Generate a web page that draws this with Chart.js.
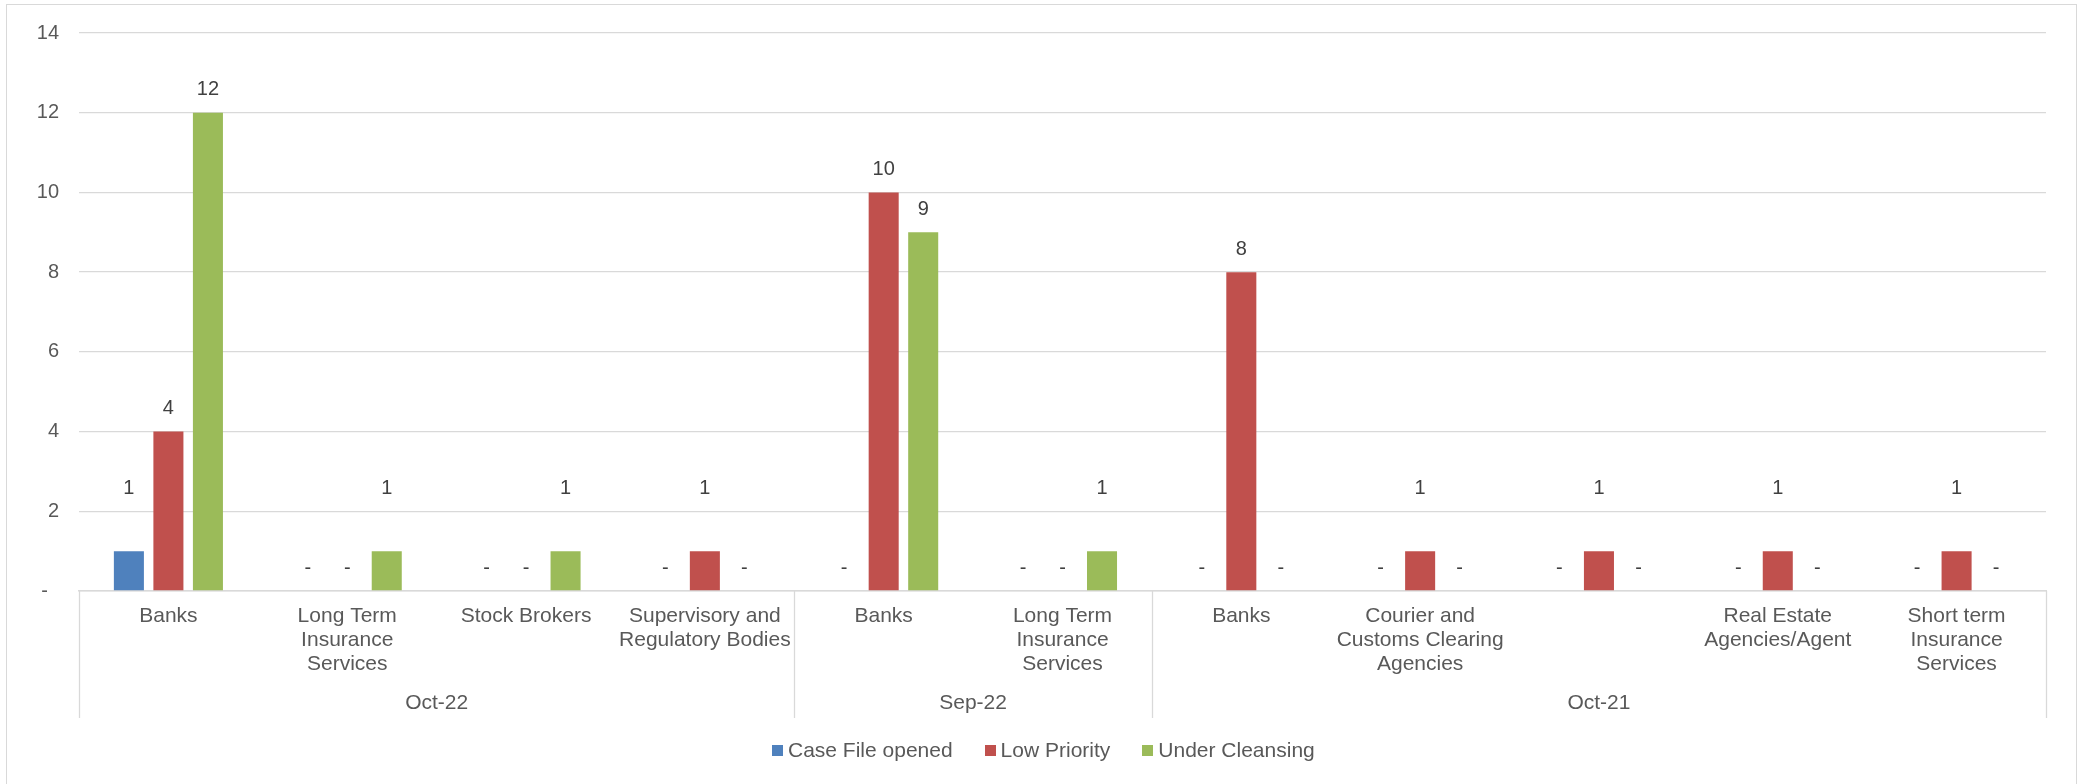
<!DOCTYPE html>
<html>
<head>
<meta charset="utf-8">
<script src="https://cdn.jsdelivr.net/npm/chart.js@4.4.1/dist/chart.umd.min.js"></script>
<style>
  html, body { margin: 0; padding: 0; background: #fff; }
  #wrap { position: relative; width: 2081px; height: 784px; overflow: hidden; }
  #frame {
    position: absolute; left: 6px; top: 4px; width: 2069px; height: 820px;
    border: 1px solid #d9d9d9; pointer-events: none;
  }
  #legend {
    position: absolute; top: 738px; left: 772px;
    display: flex; align-items: center; gap: 32px;
    font: 21px "Liberation Sans", Arial, sans-serif; color: #595959;
  }
  #legend .item { display: flex; align-items: center; }
  #legend .box { width: 11px; height: 11px; margin-right: 5px; }
</style>
</head>
<body>
<div id="wrap">
  <canvas id="chart" width="2081" height="784"></canvas>
  <div id="frame"></div>
  <div id="legend"></div>
</div>
<script>
/* === DATA === */
const categories = [
  ["Banks"], ["Long Term", "Insurance", "Services"], ["Stock Brokers"], ["Supervisory and", "Regulatory Bodies"],
  ["Banks"], ["Long Term", "Insurance", "Services"],
  ["Banks"], ["Courier and", "Customs Clearing", "Agencies"], [""], ["Real Estate", "Agencies/Agent"], ["Short term", "Insurance", "Services"]
];
const groups = ["Oct-22", "Sep-22", "Oct-21"];
const groupSizes = [4, 2, 5];

const seriesNames = ["Case File opened", "Low Priority", "Under Cleansing"];
const caseFileOpened = [1, 0, 0, 0, 0, 0, 0, 0, 0, 0, 0];
const lowPriority = [4, 0, 0, 1, 10, 0, 8, 1, 1, 1, 1];
const underCleansing = [12, 1, 1, 0, 9, 1, 0, 0, 0, 0, 0];
const yTicks = [0, 2, 4, 6, 8, 10, 12, 14];

const colors = ["#4f81bd", "#c0504d", "#9bbb59"];
const FONT = '"Liberation Sans", Arial, sans-serif';

/* === PLUGINS === */
// value labels above bars, zero values shown as a dash
const barLabels = {
  id: "barLabels",
  afterDatasetsDraw(chart) {
    const ctx = chart.ctx;
    const base = chart.scales.y.getPixelForValue(0);
    ctx.save();
    ctx.font = "20px " + FONT;
    ctx.fillStyle = "#404040";
    ctx.textAlign = "center";
    ctx.textBaseline = "middle";
    chart.data.datasets.forEach((ds, di) => {
      chart.getDatasetMeta(di).data.forEach((bar, i) => {
        const v = ds.data[i];
        if (v === 0) {
          ctx.fillText("-", bar.x, base - 23);
        } else {
          // keep labels of short bars above the dash row
          const y = Math.min(bar.y - 23, base - 103);
          ctx.fillText(String(v), bar.x, y);
        }
      });
    });
    ctx.restore();
  }
};

// second level of the category axis: group names and divider lines
const groupAxis = {
  id: "groupAxis",
  afterDraw(chart) {
    const ctx = chart.ctx;
    const x = chart.scales.x;
    const top = chart.chartArea.bottom;
    ctx.save();
    ctx.strokeStyle = "#d9d9d9";
    ctx.lineWidth = 1.3;
    ctx.font = "21px " + FONT;
    ctx.fillStyle = "#595959";
    ctx.textAlign = "center";
    ctx.textBaseline = "middle";
    let start = 0;
    const edges = [x.getPixelForValue(-0.5)];
    groups.forEach((g, gi) => {
      const end = start + groupSizes[gi];
      const left = x.getPixelForValue(start - 0.5);
      const right = x.getPixelForValue(end - 0.5);
      edges.push(right);
      ctx.fillText(g, (left + right) / 2, top + 112);
      start = end;
    });
    edges.forEach(px => {
      ctx.beginPath();
      ctx.moveTo(Math.round(px) + 0.5, top);
      ctx.lineTo(Math.round(px) + 0.5, top + 127);
      ctx.stroke();
    });
    ctx.restore();
  }
};

/* === CHART === */
const seriesData = [caseFileOpened, lowPriority, underCleansing];

new Chart(document.getElementById("chart"), {
  type: "bar",
  data: {
    labels: categories,
    datasets: seriesNames.map((name, i) => ({
      label: name,
      data: seriesData[i],
      backgroundColor: colors[i],
      borderWidth: 0,
      categoryPercentage: 0.663,
      barPercentage: 0.76
    }))
  },
  options: {
    responsive: false,
    animation: false,
    devicePixelRatio: 1,
    layout: { padding: { top: 33, right: 35, left: 0, bottom: 0 } },
    plugins: {
      legend: { display: false },
      tooltip: { enabled: false }
    },
    scales: {
      x: {
        offset: true,
        grid: { display: false, drawTicks: false },
        border: { color: "#d9d9d9", width: 1.5 },
        ticks: {
          font: { family: FONT, size: 21, lineHeight: 24 / 21 },
          color: "#595959",
          padding: 13,
          maxRotation: 0,
          minRotation: 0,
          autoSkip: false
        },
        afterFit(s) { s.height = 193; }
      },
      y: {
        min: 0,
        max: 14,
        afterBuildTicks(s) { s.ticks = yTicks.map(v => ({ value: v })); },
        grid: { color: "#d9d9d9", lineWidth: 1.3, drawTicks: false },
        border: { display: false },
        ticks: {
          font: { family: FONT, size: 20 },
          color: "#595959",
          padding: 20,
          callback: v => (v === 0 ? "-  " : v)
        },
        afterFit(s) { s.width = 79; }
      }
    }
  },
  plugins: [barLabels, groupAxis]
});

/* === LEGEND === */
const legend = document.getElementById("legend");
seriesNames.forEach((name, i) => {
  const item = document.createElement("div");
  item.className = "item";
  item.innerHTML = `<span class="box" style="background:${colors[i]}"></span><span>${name}</span>`;
  legend.appendChild(item);
});
</script>
</body>
</html>
